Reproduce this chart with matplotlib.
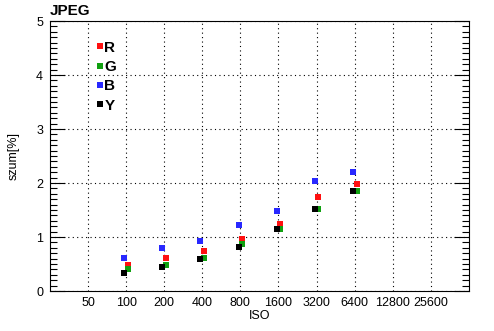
import numpy as np
import matplotlib
matplotlib.use("Agg")
import matplotlib.pyplot as plt
from matplotlib.ticker import MultipleLocator

plt.rcParams["font.family"] = ["Liberation Sans", "DejaVu Sans"]

# ISO categories (index = log2(iso / 50))
iso_labels = ["50", "100", "200", "400", "800", "1600", "3200", "6400", "12800", "25600"]
iso_measured = [100, 200, 400, 800, 1600, 3200, 6400]

noise_r = [0.48, 0.62, 0.75, 0.96, 1.24, 1.75, 1.98]
noise_g = [0.40, 0.49, 0.62, 0.87, 1.14, 1.51, 1.86]
noise_b = [0.62, 0.79, 0.92, 1.22, 1.49, 2.03, 2.20]
noise_y = [0.34, 0.44, 0.60, 0.81, 1.14, 1.51, 1.86]

series = [("R", noise_r, "#ff1010", 0.05),
          ("G", noise_g, "#10a010", 0.05),
          ("B", noise_b, "#2828ff", -0.05),
          ("Y", noise_y, "#000000", -0.05)]

x_idx = np.log2(np.array(iso_measured) / 50.0)

fig = plt.figure(figsize=(4.94, 3.31), dpi=100)
ax = fig.add_axes([0.1012, 0.1208, 0.848, 0.8157])

for name, vals, col, off in series:
    ax.plot(x_idx + off, vals, "s", color=col, markersize=3.8,
            markeredgewidth=0, label=name)

ax.set_xlim(-1, 10)
ax.set_ylim(0, 5)
ax.set_xticks(np.arange(len(iso_labels)))
ax.set_xticklabels(iso_labels, fontsize=9)
ax.tick_params(axis="x", length=0, pad=4)
ax.yaxis.set_major_locator(MultipleLocator(1))
ax.yaxis.set_minor_locator(MultipleLocator(0.1))
ax.tick_params(axis="y", which="major", direction="in", length=11,
               width=0.8, left=True, right=True, labelsize=9, pad=5)
ax.tick_params(axis="y", which="minor", direction="in", length=5,
               width=0.8, left=True, right=True)

ax.grid(True, which="major", color="black", linestyle=(0, (1, 3)), linewidth=0.8)

ax.set_xlabel("ISO", fontsize=9, labelpad=1)
ax.set_ylabel("szum[%]", fontsize=9, labelpad=12)
ax.text(0.0, 1.01, "JPEG", transform=ax.transAxes, ha="left", va="bottom",
        fontsize=11, fontweight="bold")

leg = ax.legend(loc="upper left", bbox_to_anchor=(0.097, 0.95), frameon=False,
                handlelength=0.4, handletextpad=0.1, labelspacing=0.35,
                borderaxespad=0, prop={"weight": "bold", "size": 11})

fig.savefig("out.png", dpi=100)
